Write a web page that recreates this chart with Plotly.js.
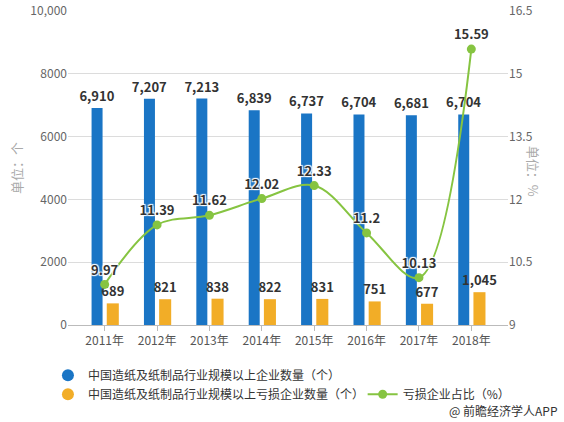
<!DOCTYPE html>
<html>
<head>
<meta charset="utf-8">
<script src="https://cdn.plot.ly/plotly-3.0.1.min.js"></script>
<style>html,body{margin:0;padding:0;background:#fff;}#chart{width:564px;height:422px;}</style>
</head>
<body>
<div id="chart"></div>
<script>
var years = ["2011年","2012年","2013年","2014年","2015年","2016年","2017年","2018年"];
var enterprises = [6910, 7207, 7213, 6839, 6737, 6704, 6681, 6704];
var lossEnterprises = [689, 821, 838, 822, 831, 751, 677, 1045];
var lossRatio = [9.97, 11.39, 11.62, 12.02, 12.33, 11.2, 10.13, 15.59];
var leftTickVals = [0, 2000, 4000, 6000, 8000, 10000];
var leftTickText = ["0", "2000", "4000", "6000", "8000", "10,000"];
var rightTickVals = [9, 10.5, 12, 13.5, 15, 16.5];
var rightTickText = ["9", "10.5", "12", "13.5", "15", "16.5"];
var names = ["中国造纸及纸制品行业规模以上企业数量（个）", "中国造纸及纸制品行业规模以上亏损企业数量（个）", "亏损企业占比（%）"];

var FONT = "'Noto Sans CJK SC', 'Microsoft YaHei', sans-serif";
var BLUE = "#1a75c5", ORANGE = "#f2ad27", GREEN = "#86c441";
var halo = "1px 1px 1px #fff, -1px -1px 1px #fff, 1px -1px 1px #fff, -1px 1px 1px #fff";

var traces = [
  {type: "bar", x: years, y: enterprises, name: names[0], showlegend: false,
   marker: {color: BLUE}, width: 0.21, offset: -0.25,
   texttemplate: "%{y:,}", textposition: "outside", constraintext: "none", cliponaxis: false,
   textfont: {family: FONT, size: 13, color: "#333", weight: "bold"}, hoverinfo: "y"},
  {type: "bar", x: years, y: lossEnterprises, name: names[1], showlegend: false,
   marker: {color: ORANGE}, width: 0.23, offset: 0.04,
   texttemplate: "%{y:,}", textposition: "outside", constraintext: "none", cliponaxis: false,
   textfont: {family: FONT, size: 13, color: "#333", weight: "bold"}, hoverinfo: "y"},
  {type: "scatter", mode: "markers", x: [null], y: [null], name: names[0], legend: "legend",
   marker: {color: BLUE, size: 12, symbol: "circle"}},
  {type: "scatter", mode: "markers", x: [null], y: [null], name: names[1], legend: "legend",
   marker: {color: ORANGE, size: 12, symbol: "circle"}},
  {type: "scatter", mode: "lines+markers+text", x: years, y: lossRatio, name: names[2], yaxis: "y2",
   legend: "legend2",
   line: {color: GREEN, width: 2, shape: "spline", smoothing: 1}, marker: {color: GREEN, size: 9},
   text: lossRatio.map(String), textposition: "top center", cliponaxis: false,
   textfont: {family: FONT, size: 13, color: "#333", weight: "bold", shadow: halo}}
];

var layout = {
  width: 564, height: 422,
  margin: {l: 68, r: 56, t: 11, b: 97},
  paper_bgcolor: "#fff", plot_bgcolor: "#fff",
  font: {family: FONT, size: 12, color: "#555"},
  barmode: "group",
  xaxis: {type: "category", range: [-0.7, 7.7], showgrid: false, zeroline: false,
    showline: true, linecolor: "#bbb", linewidth: 1, ticks: "outside", ticklen: 5, tickcolor: "#bbb",
    tickfont: {family: FONT, size: 12, color: "#555"}, fixedrange: true},
  yaxis: {range: [0, 10000], tickvals: leftTickVals, ticktext: leftTickText, showgrid: true,
    gridcolor: "#dcdcdc", zeroline: false, showline: false, ticks: "",
    tickfont: {family: FONT, size: 12, color: "#666"},
    title: {text: "单位：个", font: {family: FONT, size: 13, color: "#aaa"}, standoff: 4}},
  yaxis2: {range: [9, 16.5], overlaying: "y", side: "right", tickvals: rightTickVals, ticktext: rightTickText,
    showgrid: false, zeroline: false, showline: false, ticks: "",
    tickfont: {family: FONT, size: 12, color: "#666"}},
  legend: {orientation: "h", xref: "container", yref: "container", x: 0.085, y: 0.145,
    xanchor: "left", yanchor: "top", font: {family: FONT, size: 12, color: "#333"},
    traceorder: "normal", bgcolor: "rgba(0,0,0,0)"},
  legend2: {orientation: "h", xref: "container", yref: "container", x: 0.643, y: 0.1,
    xanchor: "left", yanchor: "top", font: {family: FONT, size: 12, color: "#333"},
    bgcolor: "rgba(0,0,0,0)"},
  annotations: [
    {xref: "paper", yref: "paper", x: 1.084, y: 0.49, text: "单位：%", showarrow: false, textangle: 90,
     font: {family: FONT, size: 13, color: "#aaa"}},
    {xref: "paper", yref: "paper", x: 1.118, y: -0.272, xanchor: "right", yanchor: "middle",
     text: "@ 前瞻经济学人APP", showarrow: false, font: {family: FONT, size: 12, color: "#333"}}
  ],
  showlegend: true
};

Plotly.newPlot("chart", traces, layout, {displayModeBar: false, staticPlot: true});
</script>
</body>
</html>
